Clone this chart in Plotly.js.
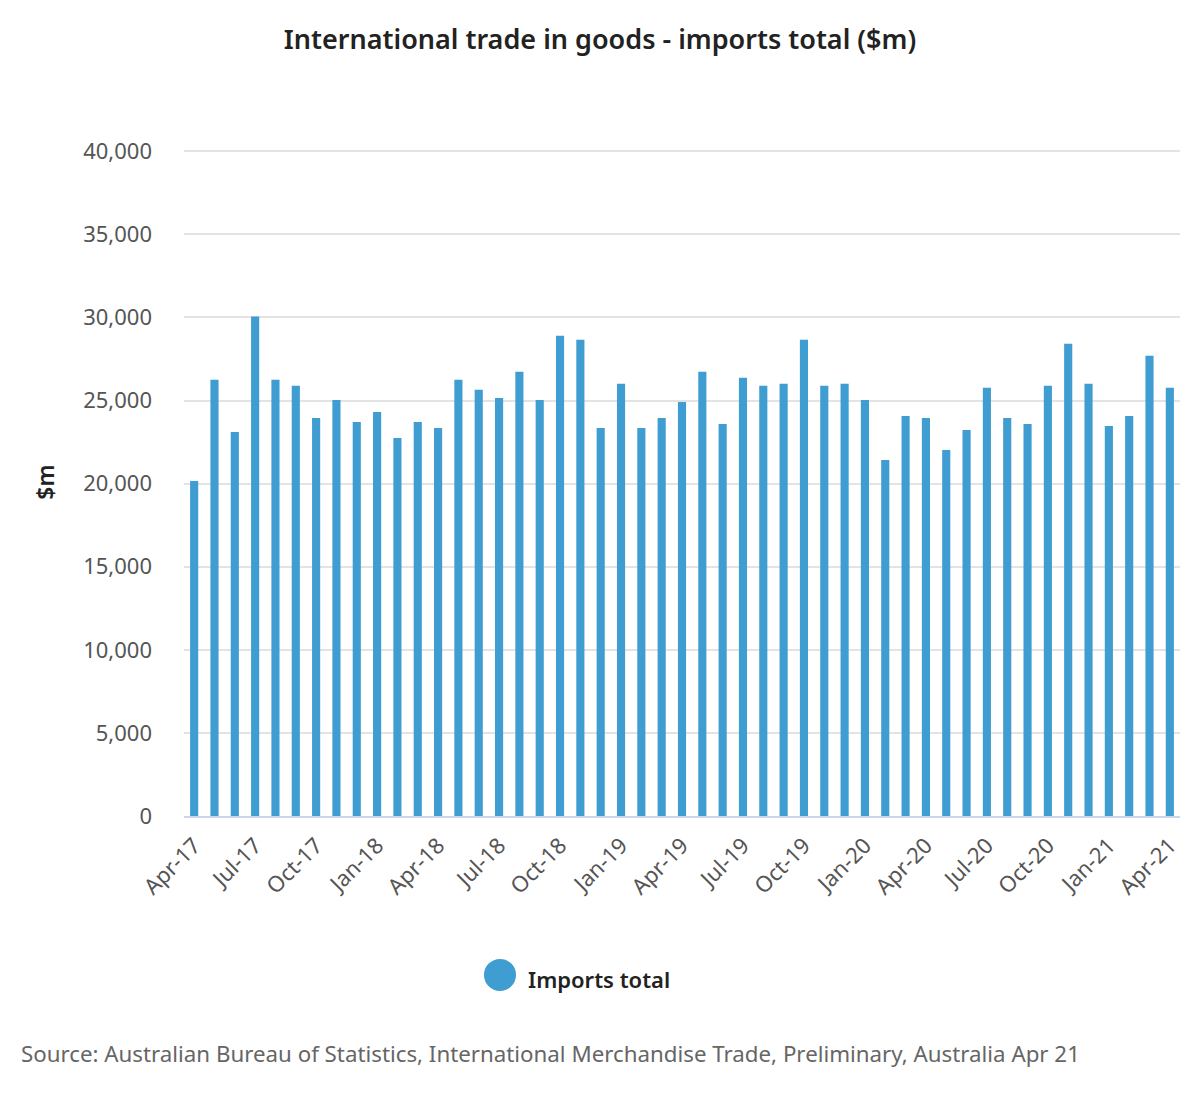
<!DOCTYPE html>
<html>
<head>
<meta charset="utf-8">
<script src="https://cdn.plot.ly/plotly-3.0.1.min.js"></script>
<style>html,body{margin:0;padding:0;background:#fff;}#chart{width:1200px;height:1100px;}</style>
</head>
<body>
<div id="chart"></div>
<script>
const months = ["Apr-17","May-17","Jun-17","Jul-17","Aug-17","Sep-17","Oct-17","Nov-17","Dec-17",
  "Jan-18","Feb-18","Mar-18","Apr-18","May-18","Jun-18","Jul-18","Aug-18","Sep-18","Oct-18","Nov-18","Dec-18",
  "Jan-19","Feb-19","Mar-19","Apr-19","May-19","Jun-19","Jul-19","Aug-19","Sep-19","Oct-19","Nov-19","Dec-19",
  "Jan-20","Feb-20","Mar-20","Apr-20","May-20","Jun-20","Jul-20","Aug-20","Sep-20","Oct-20","Nov-20","Dec-20",
  "Jan-21","Feb-21","Mar-21","Apr-21"];
const importsTotal = [20160,26250,23110,30060,26250,25890,23955,25040,23710,
  24320,22750,23710,23350,26250,25650,25160,26730,25040,28900,28660,23350,
  26010,23350,23955,24920,26730,23590,26370,25890,26010,28660,25890,26010,
  25040,21420,24075,23955,22020,23230,25770,23955,23590,25890,28420,26010,
  23470,24075,27700,25770];
const tickLabels = ["Apr-17","Jul-17","Oct-17","Jan-18","Apr-18","Jul-18","Oct-18","Jan-19","Apr-19",
  "Jul-19","Oct-19","Jan-20","Apr-20","Jul-20","Oct-20","Jan-21","Apr-21"];
const yTicks = [0,5000,10000,15000,20000,25000,30000,35000,40000];
const seriesName = "Imports total";
const barColor = "#3f9dd1";
const FONT = "Noto Sans, Open Sans, sans-serif";

const trace = {
  type: "bar",
  x: months,
  y: importsTotal,
  name: seriesName,
  marker: {color: barColor},
  showlegend: false,
  hovertemplate: "%{x}: %{y:,}<extra></extra>"
};

// plot area: x 184..1180, y0 at 816, 40000 at 151
const yMax = 40200;
const plotH = 665 * yMax / 40000;
const topM = 816 - plotH;
const px = v => (v - 184) / 996;
const py = v => (816 - v) / plotH;

const layout = {
  width: 1200, height: 1100,
  margin: {l: 184, r: 20, t: topM, b: 284},
  paper_bgcolor: "#fff", plot_bgcolor: "#fff",
  font: {family: FONT, color: "#555"},
  bargap: 0.6,
  title: {text: "International trade in goods - imports total ($m)", x: 0.5, xanchor: "center",
    y: 1 - 40/1100, yanchor: "middle", yref: "container",
    font: {family: FONT, size: 27, color: "#222", weight: 600}},
  xaxis: {
    type: "category",
    tickmode: "array", tickvals: tickLabels, ticktext: tickLabels,
    tickangle: -45, tickfont: {size: 22, color: "#555"},
    ticklabelstandoff: 6,
    showline: true, linecolor: "#ccd6eb", linewidth: 2,
    showgrid: false, ticks: "", ticklen: 0,
    range: [-0.5, months.length - 0.5]
  },
  yaxis: {
    range: [0, yMax],
    tickvals: yTicks, tickformat: ",d",
    tickfont: {size: 22, color: "#555"},
    ticklabelstandoff: 31,
    gridcolor: "#e3e3e3", gridwidth: 2,
    zeroline: false, ticks: "", ticklen: 0,
    title: {text: "$m", font: {size: 23, color: "#222", weight: 600}, standoff: 22}
  },
  shapes: [{
    type: "circle", xref: "paper", yref: "paper",
    x0: px(484), x1: px(516),
    y0: py(991), y1: py(959),
    fillcolor: barColor, line: {width: 0}
  }],
  annotations: [
    {text: seriesName, xref: "paper", yref: "paper", x: px(526), y: py(979),
      xanchor: "left", yanchor: "middle", showarrow: false,
      font: {family: FONT, size: 22, color: "#222", weight: 600}},
    {text: "Source: Australian Bureau of Statistics, International Merchandise Trade, Preliminary, Australia Apr 21",
      xref: "paper", yref: "paper", x: px(19), y: py(1054),
      xanchor: "left", yanchor: "middle", showarrow: false,
      font: {family: FONT, size: 22.3, color: "#666"}}
  ]
};

Plotly.newPlot("chart", [trace], layout, {displayModeBar: false, staticPlot: true});
</script>
</body>
</html>
